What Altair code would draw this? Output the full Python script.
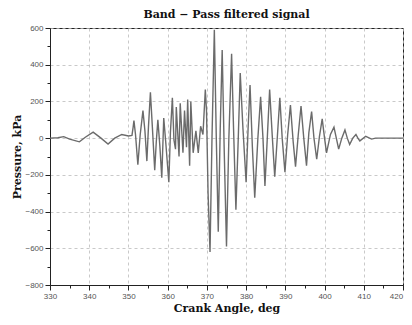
import altair as alt
import pandas as pd

angles = [330, 332, 333.5, 335, 337.5, 339, 341, 343, 344.8, 346.5, 348.3, 350, 350.9,
          351.2, 351.4, 351.8, 352.4, 353, 353.7, 354.2, 354.7, 355.1, 355.6, 356.1, 356.7,
          357.1, 357.5, 358, 358.5, 359, 359.5, 360.3, 360.7, 361.2, 361.6, 362, 362.2,
          362.9, 363.2, 363.9, 364.3, 364.8, 365.1, 365.6, 365.9, 366.5, 367.2, 367.8,
          368.4, 369, 369.6, 369.9, 370.3, 370.8, 371.3, 371.9, 372.4, 372.9, 373.4, 373.9,
          374.4, 375, 375.6, 376.3, 376.8, 377.4, 378, 378.5, 379.2, 380, 380.5, 381, 381.6,
          382.2, 383, 383.7, 384.3, 384.8, 385.4, 386, 386.7, 387.3, 388, 388.6, 389.2,
          389.9, 390.6, 391.3, 392, 392.6, 393.3, 394, 394.7, 395.4, 396, 396.7, 397.3,
          398, 398.7, 399.4, 400, 400.5, 401.5, 402.4, 403, 403.6, 404.4, 405.2, 405.8,
          406.4, 407.2, 408, 408.5, 409, 410.5, 412, 413, 420]
pressure = [0, 2, 8, -5, -20, 5, 33, 0, -32, 0, 20, 12, 15,
            60, 95, 20, -145, 20, 150, 40, -125, 60, 250, 60, -175,
            -20, 100, -40, -215, 110, -20, -240, 30, 220, -10, -60, 170,
            -100, 190, -80, 150, -50, 210, -150, 200, -80, 40, -80,
            65, 20, 265, 150, -300, -620, 0, 590, 0, -510, 50, 480,
            -50, -590, 0, 460, 50, -390, 0, 355, 50, -240, 50, 290, -50,
            -325, 0, 225, 0, -260, 0, 265, 0, -210, 20, 220, 0,
            -185, 20, 180, -20, -155, 20, 175, 0, -150, 30, 145, 0,
            -115, 10, 105, 0, -80, 20, 60, 0, -60, 0, 45, 0,
            -35, 0, 20, 0, -15, 10, -5, 0, 0]

x_ticks = list(range(330, 421, 5))
y_ticks = list(range(-800, 601, 100))

df = pd.DataFrame({"angle": angles, "p": pressure})

label_font = "Liberation Sans"
serif = "DejaVu Serif"

chart = alt.Chart(df).mark_line(color="#6b6b6b", strokeWidth=1.4).encode(
    x=alt.X("angle:Q", scale=alt.Scale(domain=[330, 420], nice=False),
            axis=alt.Axis(values=x_ticks, title="Crank Angle, deg",
                          labelExpr="datum.value % 10 === 0 ? datum.label : ''",
                          labelOffset={"condition": {"test": "datum.value === 420", "value": -7}, "value": 0},
                          tickSize={"condition": {"test": "datum.value % 10 === 0", "value": 5}, "value": 3},
                          gridOpacity={"condition": {"test": "datum.value % 10 === 0", "value": 1}, "value": 0},
                          titlePadding=2)),
    y=alt.Y("p:Q", scale=alt.Scale(domain=[-800, 600], nice=False),
            axis=alt.Axis(values=y_ticks, title="Pressure, kPa",
                          labelExpr="datum.value % 200 === 0 ? datum.label : ''",
                          tickSize={"condition": {"test": "datum.value % 200 === 0", "value": 5}, "value": 3},
                          gridOpacity={"condition": {"test": "datum.value % 200 === 0", "value": 1}, "value": 0},
                          titleX=-28)),
).properties(
    width=353, height=257,
    title=alt.TitleParams("Band \u2212 Pass filtered signal", font=serif, fontSize=11,
                          fontWeight="bold", color="#111", anchor="middle", offset=4),
    autosize=alt.AutoSizeParams(type="none"),
    padding={"left": 42, "top": 20, "right": 1, "bottom": 32},
).configure_axis(
    labelFont=label_font, labelFontSize=8, labelColor="#555",
    titleFont=serif, titleFontSize=11, titleFontWeight="bold", titleColor="#111",
    grid=True, gridColor="#bbbbbb", gridDash=[3, 3], gridWidth=0.8,
    domainColor="#222", tickColor="#222", labelPadding=2,
    format="d",
).configure_axisY(labelFlush=False).configure_axisX(labelFlush=False).configure_view(
    stroke="#222", strokeWidth=1
)

chart.save("out.html", embed_options={"renderer": "svg", "actions": False})
